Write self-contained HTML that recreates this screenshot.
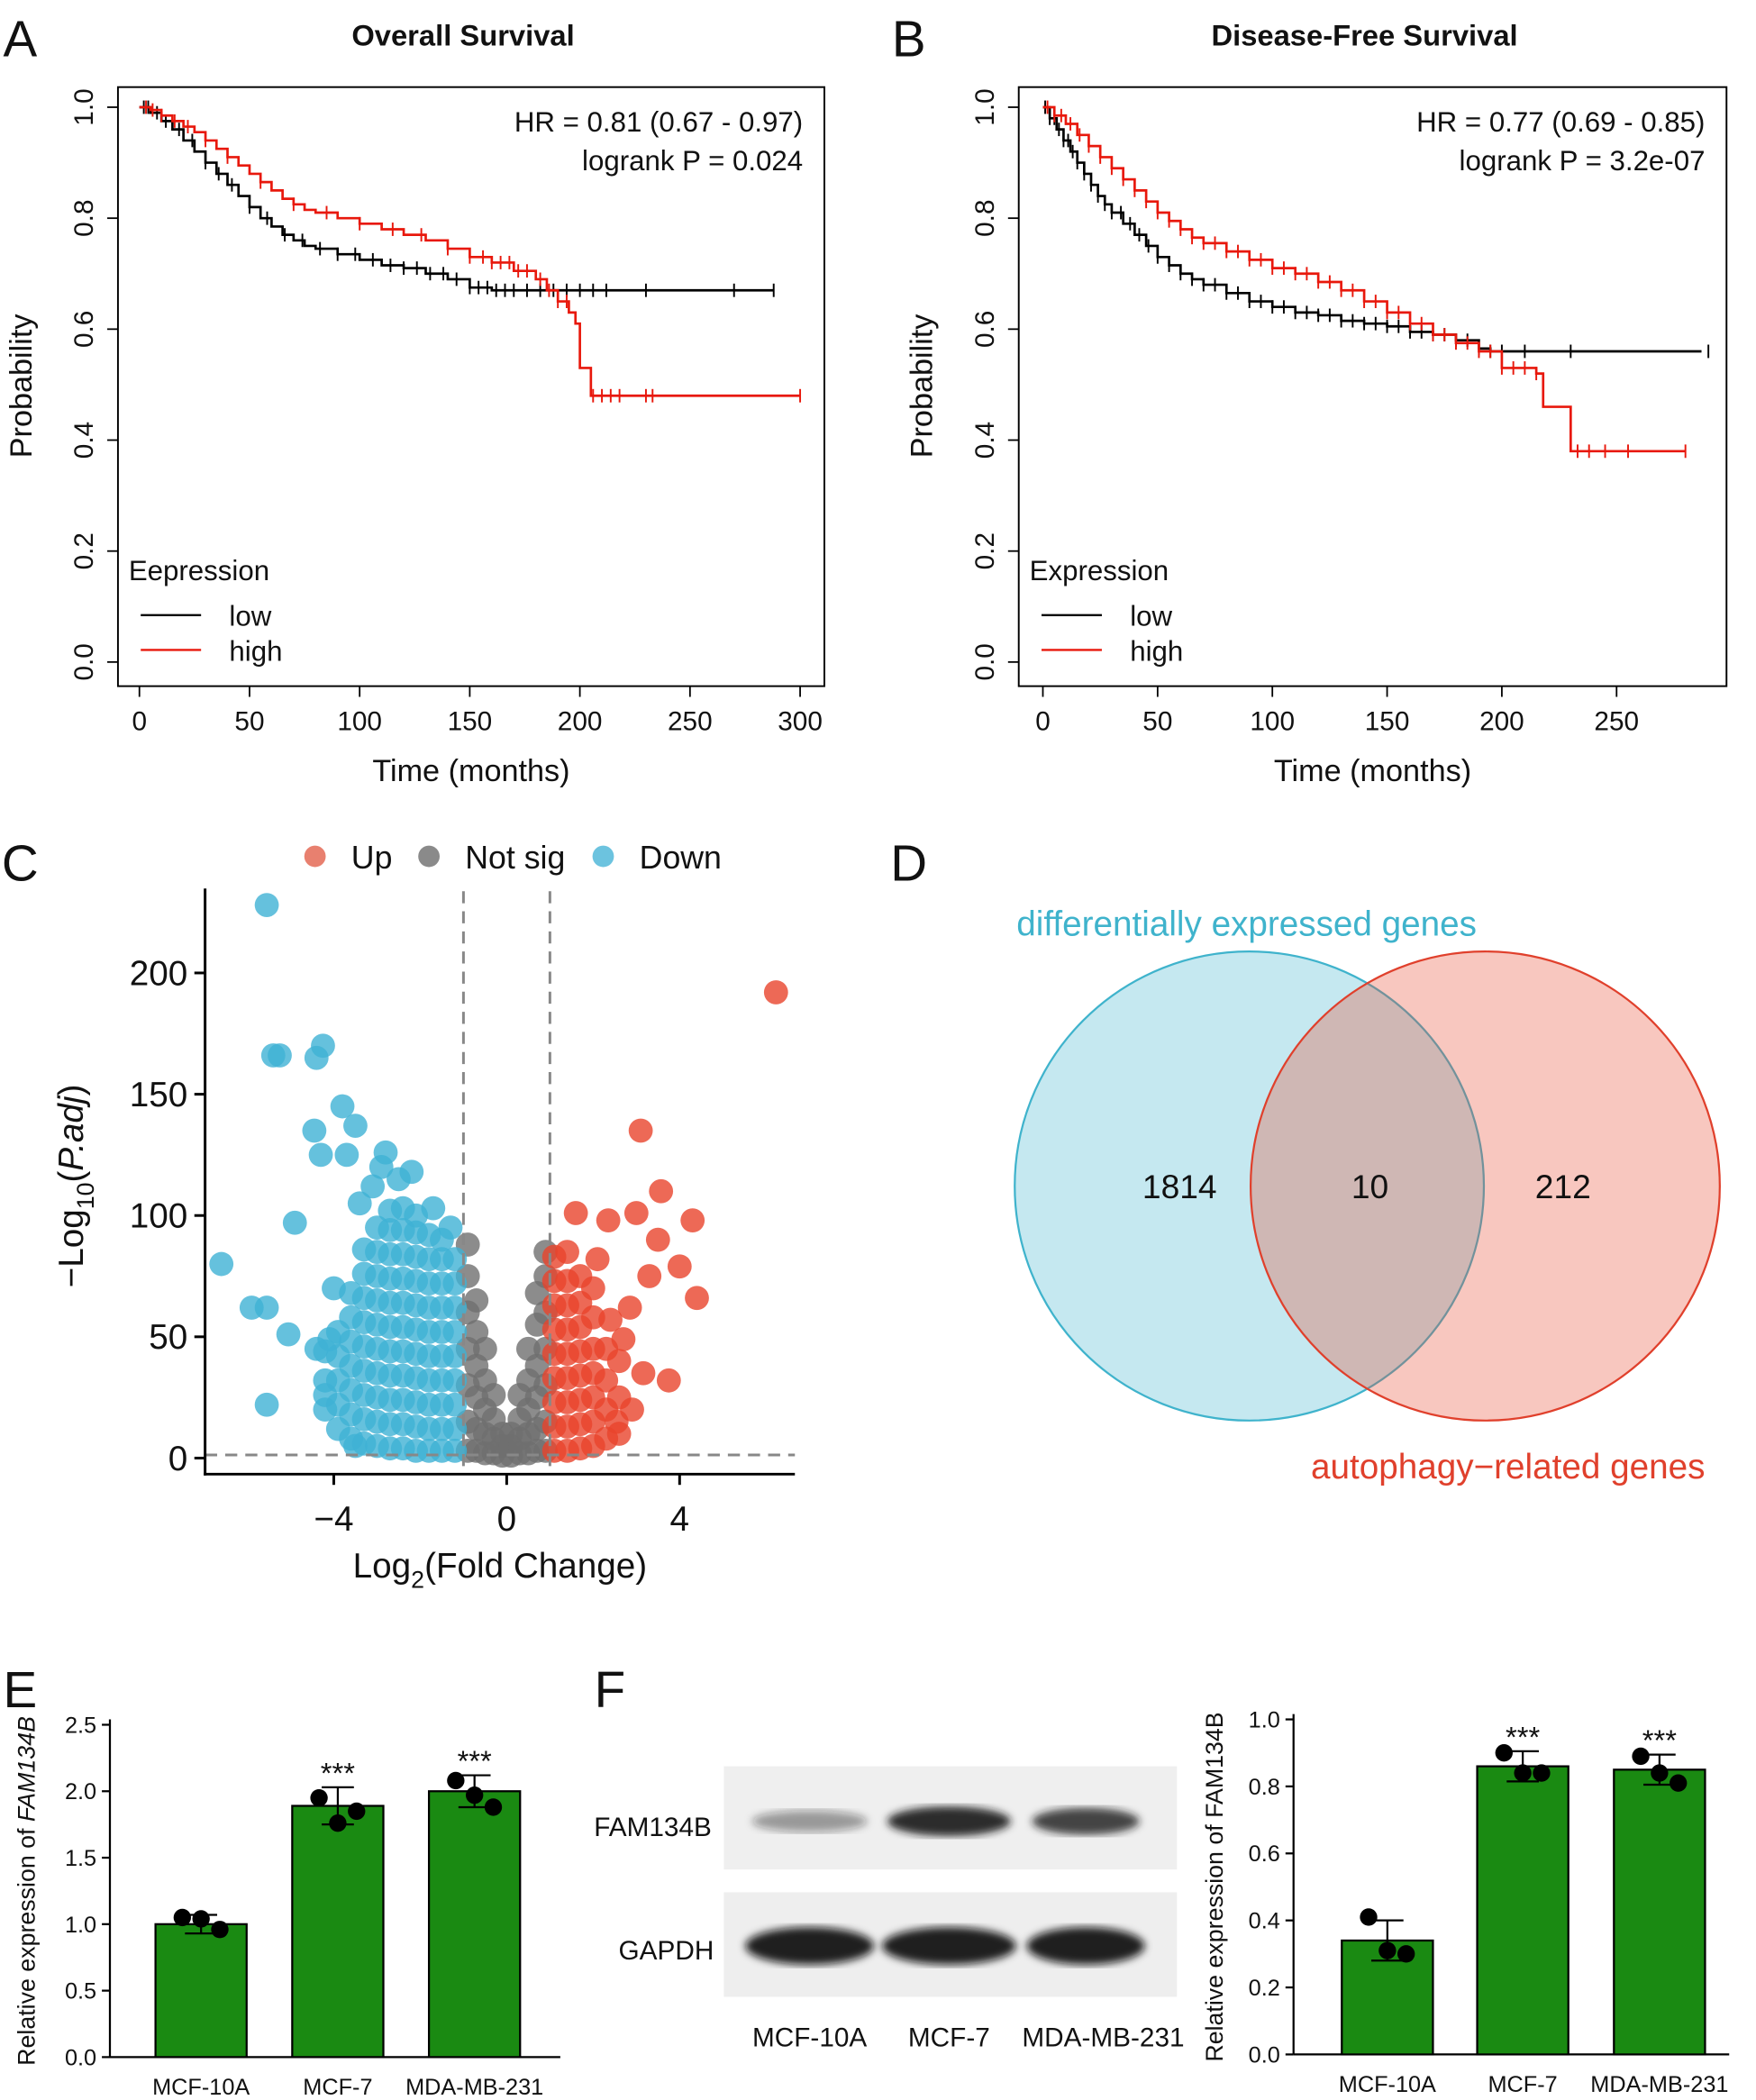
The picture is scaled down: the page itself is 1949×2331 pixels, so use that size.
<!DOCTYPE html>
<html><head><meta charset="utf-8"><style>
html,body{margin:0;padding:0;background:#fff;}
svg{display:block;font-family:"Liberation Sans",Arial,sans-serif;}
</style></head><body>
<svg id="fig" width="1949" height="2331" viewBox="0 0 1310 1567" preserveAspectRatio="none" xmlns="http://www.w3.org/2000/svg">
<g id="root"></g>
</svg>
<script>
// ---------- DATA ----------
const aLowT=[0,5,10,15,20,25,30,35,40,45,50,55,60,65,70,75,80,90,100,110,120,130,140,150,160,288];
const aLowS=[1,0.99,0.975,0.96,0.94,0.92,0.90,0.88,0.86,0.84,0.82,0.80,0.785,0.77,0.76,0.75,0.745,0.735,0.725,0.715,0.71,0.70,0.69,0.675,0.67,0.67];
const aHighT=[0,5,10,15,20,25,30,35,40,45,50,55,60,65,70,75,80,90,100,110,120,130,140,150,160,170,180,185,190,195,198,200,205,300];
const aHighS=[1,0.995,0.985,0.975,0.965,0.955,0.94,0.925,0.91,0.895,0.88,0.865,0.85,0.835,0.825,0.815,0.81,0.80,0.79,0.78,0.77,0.76,0.745,0.73,0.72,0.705,0.69,0.67,0.65,0.63,0.61,0.53,0.48,0.48];
const aLowC=[2,4,8,12,18,24,30,36,42,50,58,66,74,82,90,98,106,114,120,126,132,138,144,150,154,158,162,166,170,176,182,188,194,200,206,212,230,270,288];
const aHighC=[3,6,10,16,22,30,40,55,70,85,100,115,128,140,150,156,160,164,168,172,176,182,186,190,194,206,210,214,218,230,233,300];
const bLowT=[0,3,6,9,12,15,18,21,24,27,30,35,40,45,50,55,60,65,70,80,90,100,110,120,130,140,150,160,170,180,190,195,287];
const bLowS=[1,0.98,0.96,0.94,0.92,0.90,0.88,0.86,0.84,0.825,0.81,0.79,0.77,0.75,0.73,0.715,0.70,0.69,0.68,0.665,0.65,0.64,0.63,0.625,0.615,0.61,0.605,0.595,0.59,0.58,0.565,0.56,0.56];
const bHighT=[0,5,10,15,20,25,30,35,40,45,50,55,60,65,70,80,90,100,110,120,130,140,150,160,170,180,190,200,215,218,230,280];
const bHighS=[1,0.985,0.97,0.95,0.93,0.91,0.89,0.87,0.85,0.83,0.81,0.795,0.78,0.765,0.755,0.74,0.725,0.71,0.70,0.685,0.67,0.65,0.63,0.61,0.59,0.575,0.56,0.53,0.52,0.46,0.38,0.38];
const bLowC=[1,3,5,7,9,11,13,15,18,21,24,27,30,34,38,42,46,50,55,60,65,70,75,80,85,90,95,100,105,110,115,120,125,130,135,140,145,150,155,160,165,170,175,180,185,190,195,200,210,230,290];
const bHighC=[2,5,8,12,16,20,25,30,35,40,45,50,55,60,65,70,75,80,85,90,95,100,105,110,115,120,125,130,135,140,145,150,155,160,165,170,175,180,185,190,195,200,205,210,215,233,238,245,255,280];

const upPts=[[6.23,192],[3.1,135],[3.57,110],[3.0,101],[4.3,98],[2.35,98],[1.6,101],[3.5,90],[4.0,79],[4.4,66],[3.75,32],[3.16,35],[2.7,49],[2.85,62],[2.1,82],[2.54,15],[2.4,57],[3.3,75],[2.9,20],
[1.1,3],[1.1,13],[1.1,23],[1.1,33],[1.1,43],[1.1,53],[1.1,63],[1.1,73],[1.1,83],
[1.4,3],[1.4,13],[1.4,23],[1.4,33],[1.4,43],[1.4,53],[1.4,63],[1.4,73],[1.4,85],
[1.7,4],[1.7,14],[1.7,24],[1.7,34],[1.7,44],[1.7,54],[1.7,64],[1.7,75],
[2.0,5],[2.0,15],[2.0,25],[2.0,35],[2.0,45],[2.0,58],[2.0,70],
[2.3,8],[2.3,20],[2.3,32],[2.3,45],[2.6,10],[2.6,25],[2.6,40]];
const nsPts=[[-0.9,3],[-0.9,15],[-0.9,30],[-0.9,45],[-0.9,60],[-0.9,75],[-0.9,88],[-0.7,3],[-0.7,12],[-0.7,25],[-0.7,38],[-0.7,52],[-0.7,65],
[-0.5,2],[-0.5,10],[-0.5,20],[-0.5,32],[-0.5,45],[-0.3,2],[-0.3,8],[-0.3,16],[-0.3,26],[-0.1,1],[-0.1,5],[-0.1,10],
[0.1,1],[0.1,5],[0.1,10],[0.3,2],[0.3,8],[0.3,16],[0.3,26],[0.5,2],[0.5,10],[0.5,20],[0.5,32],[0.5,45],
[0.7,3],[0.7,12],[0.7,25],[0.7,38],[0.7,55],[0.7,68],[0.9,3],[0.9,15],[0.9,30],[0.9,45],[0.9,60],[0.9,75],[0.9,85]];
const downPts=[[-5.55,228],[-5.4,166],[-5.25,166],[-4.25,170],[-4.4,165],[-3.8,145],[-4.45,135],[-3.5,137],[-4.3,125],[-3.7,125],[-2.8,126],[-6.6,80],[-5.9,62],[-5.55,62],[-5.55,22],[-4.9,97],[-5.05,51],[-4.1,49],[-4.2,26],[-3.5,5],
[-2.5,115],[-2.2,118],[-3.1,112],[-2.9,120],[-1.7,103],[-1.3,95],[-3.4,105],[-4.0,70],[-4.4,45],
[-1.2,3],[-1.2,12],[-1.2,22],[-1.2,32],[-1.2,42],[-1.2,52],[-1.2,62],[-1.2,72],[-1.2,82],
[-1.5,3],[-1.5,12],[-1.5,22],[-1.5,32],[-1.5,42],[-1.5,52],[-1.5,62],[-1.5,72],[-1.5,82],[-1.5,90],
[-1.8,3],[-1.8,12],[-1.8,22],[-1.8,32],[-1.8,42],[-1.8,52],[-1.8,62],[-1.8,72],[-1.8,82],[-1.8,92],
[-2.1,3],[-2.1,13],[-2.1,23],[-2.1,33],[-2.1,43],[-2.1,53],[-2.1,63],[-2.1,73],[-2.1,83],[-2.1,93],[-2.1,100],
[-2.4,4],[-2.4,14],[-2.4,24],[-2.4,34],[-2.4,44],[-2.4,54],[-2.4,64],[-2.4,74],[-2.4,84],[-2.4,94],[-2.4,103],
[-2.7,4],[-2.7,14],[-2.7,24],[-2.7,34],[-2.7,44],[-2.7,54],[-2.7,64],[-2.7,74],[-2.7,84],[-2.7,94],[-2.7,102],
[-3.0,5],[-3.0,15],[-3.0,25],[-3.0,35],[-3.0,45],[-3.0,55],[-3.0,65],[-3.0,75],[-3.0,85],[-3.0,95],
[-3.3,6],[-3.3,16],[-3.3,26],[-3.3,36],[-3.3,46],[-3.3,56],[-3.3,66],[-3.3,76],[-3.3,86],
[-3.6,8],[-3.6,18],[-3.6,28],[-3.6,38],[-3.6,48],[-3.6,58],[-3.6,68],[-3.9,12],[-3.9,22],[-3.9,32],[-3.9,42],[-3.9,52],[-4.2,20],[-4.2,32],[-4.2,44]];

const cellLines=["MCF-10A","MCF-7","MDA-MB-231"];
const eMeans=[1.0,1.89,2.0];
const eSD=[0.07,0.14,0.12];
const ePts=[[1.05,1.04,0.96],[1.95,1.76,1.85],[2.08,1.97,1.88]];
const fMeans=[0.34,0.86,0.85];
const fSD=[0.06,0.045,0.045];
const fPts=[[0.41,0.31,0.30],[0.90,0.84,0.84],[0.89,0.84,0.81]];
const eTicks=[0,0.5,1.0,1.5,2.0,2.5];
const fTicks=[0,0.2,0.4,0.6,0.8,1.0];

// ---------- helpers ----------
const NS="http://www.w3.org/2000/svg";
const root=document.getElementById('root');
function mk(tag,attrs,parent,text){const e=document.createElementNS(NS,tag);for(const k in attrs)e.setAttribute(k,attrs[k]);if(text!==undefined)e.textContent=text;(parent||root).appendChild(e);return e;}
function grp(name){const g=mk('g',{});


return g;}
function txt(g,name,x,y,s,opt){const t=mk('text',Object.assign({x:x,y:y,'font-size':opt&&opt.size||20,'text-anchor':opt&&opt.anchor||'middle',fill:opt&&opt.fill||'#111'},opt&&opt.extra||{}),g,s);


return t;}

[["A",15,30],["B",678,30],["C",15,645],["D",678,645],["E",15,1262],["F",455,1262]].forEach(p=>{
  txt(root,'panel-label-'+p[0].toLowerCase(),p[1],p[2]+12,p[0],{size:38});
});

// ---------- survival ----------
function survival(key,title,box,xmax,xticks,x0px,xPerMonth,lowT,lowS,highT,highS,lowC,highC,hr,p,legTitle){
  const g=grp('survival-chart-'+key);
  const yPx=v=>494-414*v, xPx=t=>x0px+t*xPerMonth;
  const fr=mk('rect',{x:box[0],y:box[1],width:box[2]-box[0],height:box[3]-box[1],fill:'none',stroke:'#000','stroke-width':1.3},g);
  
  
  txt(g,'chart-title',(box[0]+box[2])/2-6,34,title,{size:22,extra:{'font-weight':'bold'}});
  [0,0.2,0.4,0.6,0.8,1.0].forEach(v=>{
    mk('line',{x1:box[0],x2:box[0]-8,y1:yPx(v),y2:yPx(v),stroke:'#000','stroke-width':1.2},g);
    txt(g,'y-tick-label',box[0]-25,yPx(v),v.toFixed(1),{size:20,extra:{transform:`rotate(-90 ${box[0]-25} ${yPx(v)})`,'dominant-baseline':'central'}});
  });
  xticks.forEach(v=>{
    mk('line',{x1:xPx(v),x2:xPx(v),y1:box[3],y2:box[3]+8,stroke:'#000','stroke-width':1.2},g);
    txt(g,'x-tick-label',xPx(v),box[3]+33,String(v),{size:20});
  });
  txt(g,'x-axis-title',(box[0]+box[2])/2,583,'Time (months)',{size:23});
  txt(g,'y-axis-title',box[0]-72,288,'Probability',{size:23,extra:{transform:`rotate(-90 ${box[0]-72} 288)`,'dominant-baseline':'central'}});
  txt(g,'hazard-ratio',box[2]-16,98,hr,{size:21,anchor:'end'});
  txt(g,'logrank-p',box[2]-16,127,p,{size:21,anchor:'end'});
  function step(T,S){let d=`M${xPx(T[0])},${yPx(S[0])}`;for(let i=1;i<T.length;i++){d+=`H${xPx(T[i])}V${yPx(S[i])}`;}return d;}
  function at(T,S,t){let s=S[0];for(let i=0;i<T.length;i++){if(T[i]<=t)s=S[i];}return s;}
  [[lowT,lowS,lowC,'#000','low'],[highT,highS,highC,'#e8180c','high']].forEach(c=>{
    const pth=mk('path',{d:step(c[0],c[1]),fill:'none',stroke:c[3],'stroke-width':1.8},g);
    
    
    c[2].forEach(t=>{const y=yPx(at(c[0],c[1],t));mk('line',{x1:xPx(t),x2:xPx(t),y1:y-5,y2:y+5,stroke:c[3],'stroke-width':1.3},g);});
  });
  txt(g,'legend-title',box[0]+8,433,legTitle,{size:21,anchor:'start'});
  mk('line',{x1:box[0]+17,x2:box[0]+62,y1:459,y2:459,stroke:'#000','stroke-width':1.6},g);
  txt(g,'legend-entry-low',box[0]+83,467,'low',{size:21,anchor:'start'});
  mk('line',{x1:box[0]+17,x2:box[0]+62,y1:485,y2:485,stroke:'#e8180c','stroke-width':1.6},g);
  txt(g,'legend-entry-high',box[0]+83,493,'high',{size:21,anchor:'start'});
}
survival('a','Overall Survival',[88,65,615,512],300,[0,50,100,150,200,250,300],104,1.643,aLowT,aLowS,aHighT,aHighS,aLowC,aHighC,'HR = 0.81 (0.67 - 0.97)','logrank P = 0.024','Eepression');
survival('b','Disease-Free Survival',[760,65,1288,512],290,[0,50,100,150,200,250],778,1.712,bLowT,bLowS,bHighT,bHighS,bLowC,bHighC,'HR = 0.77 (0.69 - 0.85)','logrank P = 3.2e-07','Expression');

// ---------- volcano ----------
(function(){
  const g=grp('volcano-plot');
  const xPx=v=>378+v*32.25, yPx=v=>1088-v*1.81;
  const dl=(x1,y1,x2,y2)=>mk('line',{x1,y1,x2,y2,stroke:'#888','stroke-width':2,'stroke-dasharray':'9,6'},g);
  function pts(arr,col,name){arr.forEach(p=>{const c=mk('circle',{cx:xPx(p[0]),cy:yPx(p[1]),r:9,fill:col,'fill-opacity':0.8},g);
    
    });}
  pts(nsPts,'#6f6f6f','point-not-sig');
  pts(downPts,'#3fb1d5','point-down');
  pts(upPts,'#e8442c','point-up');
  dl(xPx(-1),665,xPx(-1),1100);dl(xPx(1),665,xPx(1),1100);dl(153,yPx(1.3),593,yPx(1.3));
  mk('line',{x1:153,y1:663,x2:153,y2:1101,stroke:'#000','stroke-width':2},g);
  mk('line',{x1:152,y1:1100,x2:593,y2:1100,stroke:'#000','stroke-width':2},g);
  [0,50,100,150,200].forEach(v=>{mk('line',{x1:153,x2:145,y1:yPx(v),y2:yPx(v),stroke:'#000','stroke-width':2},g);
    txt(g,'y-tick-label',140,yPx(v)+9,String(v),{size:26,anchor:'end'});});
  [-4,0,4].forEach(v=>{mk('line',{x1:xPx(v),x2:xPx(v),y1:1100,y2:1108,stroke:'#000','stroke-width':2},g);
    txt(g,'x-tick-label',xPx(v),1142,v<0?'−'+Math.abs(v):String(v),{size:26});});
  const xt=txt(g,'x-axis-title',373,1177,'',{size:26});
  xt.innerHTML='Log<tspan font-size="18" dy="8">2</tspan><tspan dy="-8">(Fold Change)</tspan>';
  const yt=txt(g,'y-axis-title',62,885,'',{size:26,extra:{transform:'rotate(-90 62 885)'}});
  yt.innerHTML='−Log<tspan font-size="18" dy="8">10</tspan><tspan dy="-8">(</tspan><tspan font-style="italic">P.adj</tspan>)';
  [[235,'#e8806f','Up',262],[320,'#8a8a8a','Not sig',347],[450,'#6cc3df','Down',477]].forEach(l=>{
    mk('circle',{cx:l[0],cy:639,r:8,fill:l[1]},g);
    txt(g,'legend-entry-'+l[2].toLowerCase().replace(' ','-'),l[3],648,l[2],{size:24,anchor:'start'});
  });
})();

// ---------- venn ----------
(function(){
  const g=grp('venn-diagram');
  mk('circle',{cx:932,cy:885,r:175,fill:'#3fb3cc','fill-opacity':0.3,stroke:'#3fb3cc','stroke-width':1.5},g);
  mk('circle',{cx:1108,cy:885,r:175,fill:'#e8442c','fill-opacity':0.3,stroke:'#e0402c','stroke-width':1.5},g);
  txt(g,'count-deg-only',880,894,'1814',{size:25});
  txt(g,'count-overlap',1022,894,'10',{size:25});
  txt(g,'count-autophagy-only',1166,894,'212',{size:25});
  txt(g,'set-label-deg',930,698,'differentially expressed genes',{size:26,fill:'#3fb3cc'});
  txt(g,'set-label-autophagy',1125,1103,'autophagy−related genes',{size:26,fill:'#e0402c'});
})();

// ---------- bar charts ----------
function barChart(key,axX,top,bottom,xRight,ymax,ticks,dec,centers,means,sd,pts,stars,ytitleHTML,ytitleX){
  const g=grp('bar-chart-'+key);
  const yPx=v=>bottom-(v/ymax)*(bottom-top);
  mk('line',{x1:axX,y1:top-4,x2:axX,y2:bottom,stroke:'#000','stroke-width':1.5},g);
  mk('line',{x1:axX,y1:bottom,x2:xRight,y2:bottom,stroke:'#000','stroke-width':1.5},g);
  ticks.forEach(v=>{mk('line',{x1:axX,x2:axX-6,y1:yPx(v),y2:yPx(v),stroke:'#000','stroke-width':1.5},g);
    txt(g,'y-tick-label',axX-10,yPx(v)+6,v.toFixed(1),{size:17,anchor:'end'});});
  centers.forEach((c,i)=>{
    const b=mk('rect',{x:c-34,y:yPx(means[i]),width:68,height:bottom-yPx(means[i]),fill:'#1a8a12',stroke:'#000','stroke-width':1.5},g);
    
    
    const yh=yPx(means[i]+sd[i]),yl=yPx(means[i]-sd[i]);
    mk('line',{x1:c,x2:c,y1:yh,y2:yl,stroke:'#000','stroke-width':1.5},g);
    mk('line',{x1:c-12,x2:c+12,y1:yh,y2:yh,stroke:'#000','stroke-width':1.5},g);
    mk('line',{x1:c-12,x2:c+12,y1:yl,y2:yl,stroke:'#000','stroke-width':1.5},g);
    [-14,0,14].forEach((dx,j)=>{const pp=mk('circle',{cx:c+dx,cy:yPx(pts[i][j]),r:6.5,fill:'#000'},g);
      
      });
    txt(g,'x-tick-label',c,bottom+28,cellLines[i],{size:17});
    if(stars[i])txt(g,'significance-marker',c,yh-3,'***',{size:22});
  });
  const t=txt(g,'y-axis-title',ytitleX,(top+bottom)/2,'',{size:18,extra:{transform:`rotate(-90 ${ytitleX} ${(top+bottom)/2})`}});
  t.innerHTML=ytitleHTML;
}
barChart('e',82,1287,1535,418,2.5,eTicks,1,[150,252,354],eMeans,eSD,ePts,[false,true,true],'Relative expression of <tspan font-style="italic">FAM134B</tspan>',26);
barChart('f',965,1283,1533,1290,1.0,fTicks,1,[1035,1136,1238],fMeans,fSD,fPts,[false,true,true],'Relative expression of FAM134B',912);

// ---------- western blot ----------
(function(){
  const g=grp('western-blot');
  mk('rect',{x:540,y:1318,width:338,height:77,fill:'#efefef'},g);
  mk('rect',{x:540,y:1412,width:338,height:78,fill:'#eeeeee'},g);
  const defs=mk('defs',{},g);
  const f=mk('filter',{id:'blur'},defs);mk('feGaussianBlur',{stdDeviation:3},f);
  [[604,86,0.4,8],[708,92,0.9,11],[810,80,0.8,10]].forEach(b=>{
    mk('ellipse',{cx:b[0],cy:1359,rx:b[1]/2,ry:b[3],fill:'#1a1a1a','fill-opacity':b[2],filter:'url(#blur)'},g);
  });
  [[604,96],[708,100],[810,88]].forEach(b=>{
    mk('ellipse',{cx:b[0],cy:1452,rx:b[1]/2,ry:14,fill:'#111','fill-opacity':0.92,filter:'url(#blur)'},g);
  });
  txt(g,'band-label-fam134b',487,1370,'FAM134B',{size:20});
  txt(g,'band-label-gapdh',497,1462,'GAPDH',{size:20});
  [[604,'MCF-10A'],[708,'MCF-7'],[823,'MDA-MB-231']].forEach(l=>txt(g,'lane-label',l[0],1527,l[1],{size:20}));
})();
</script>
</body></html>
